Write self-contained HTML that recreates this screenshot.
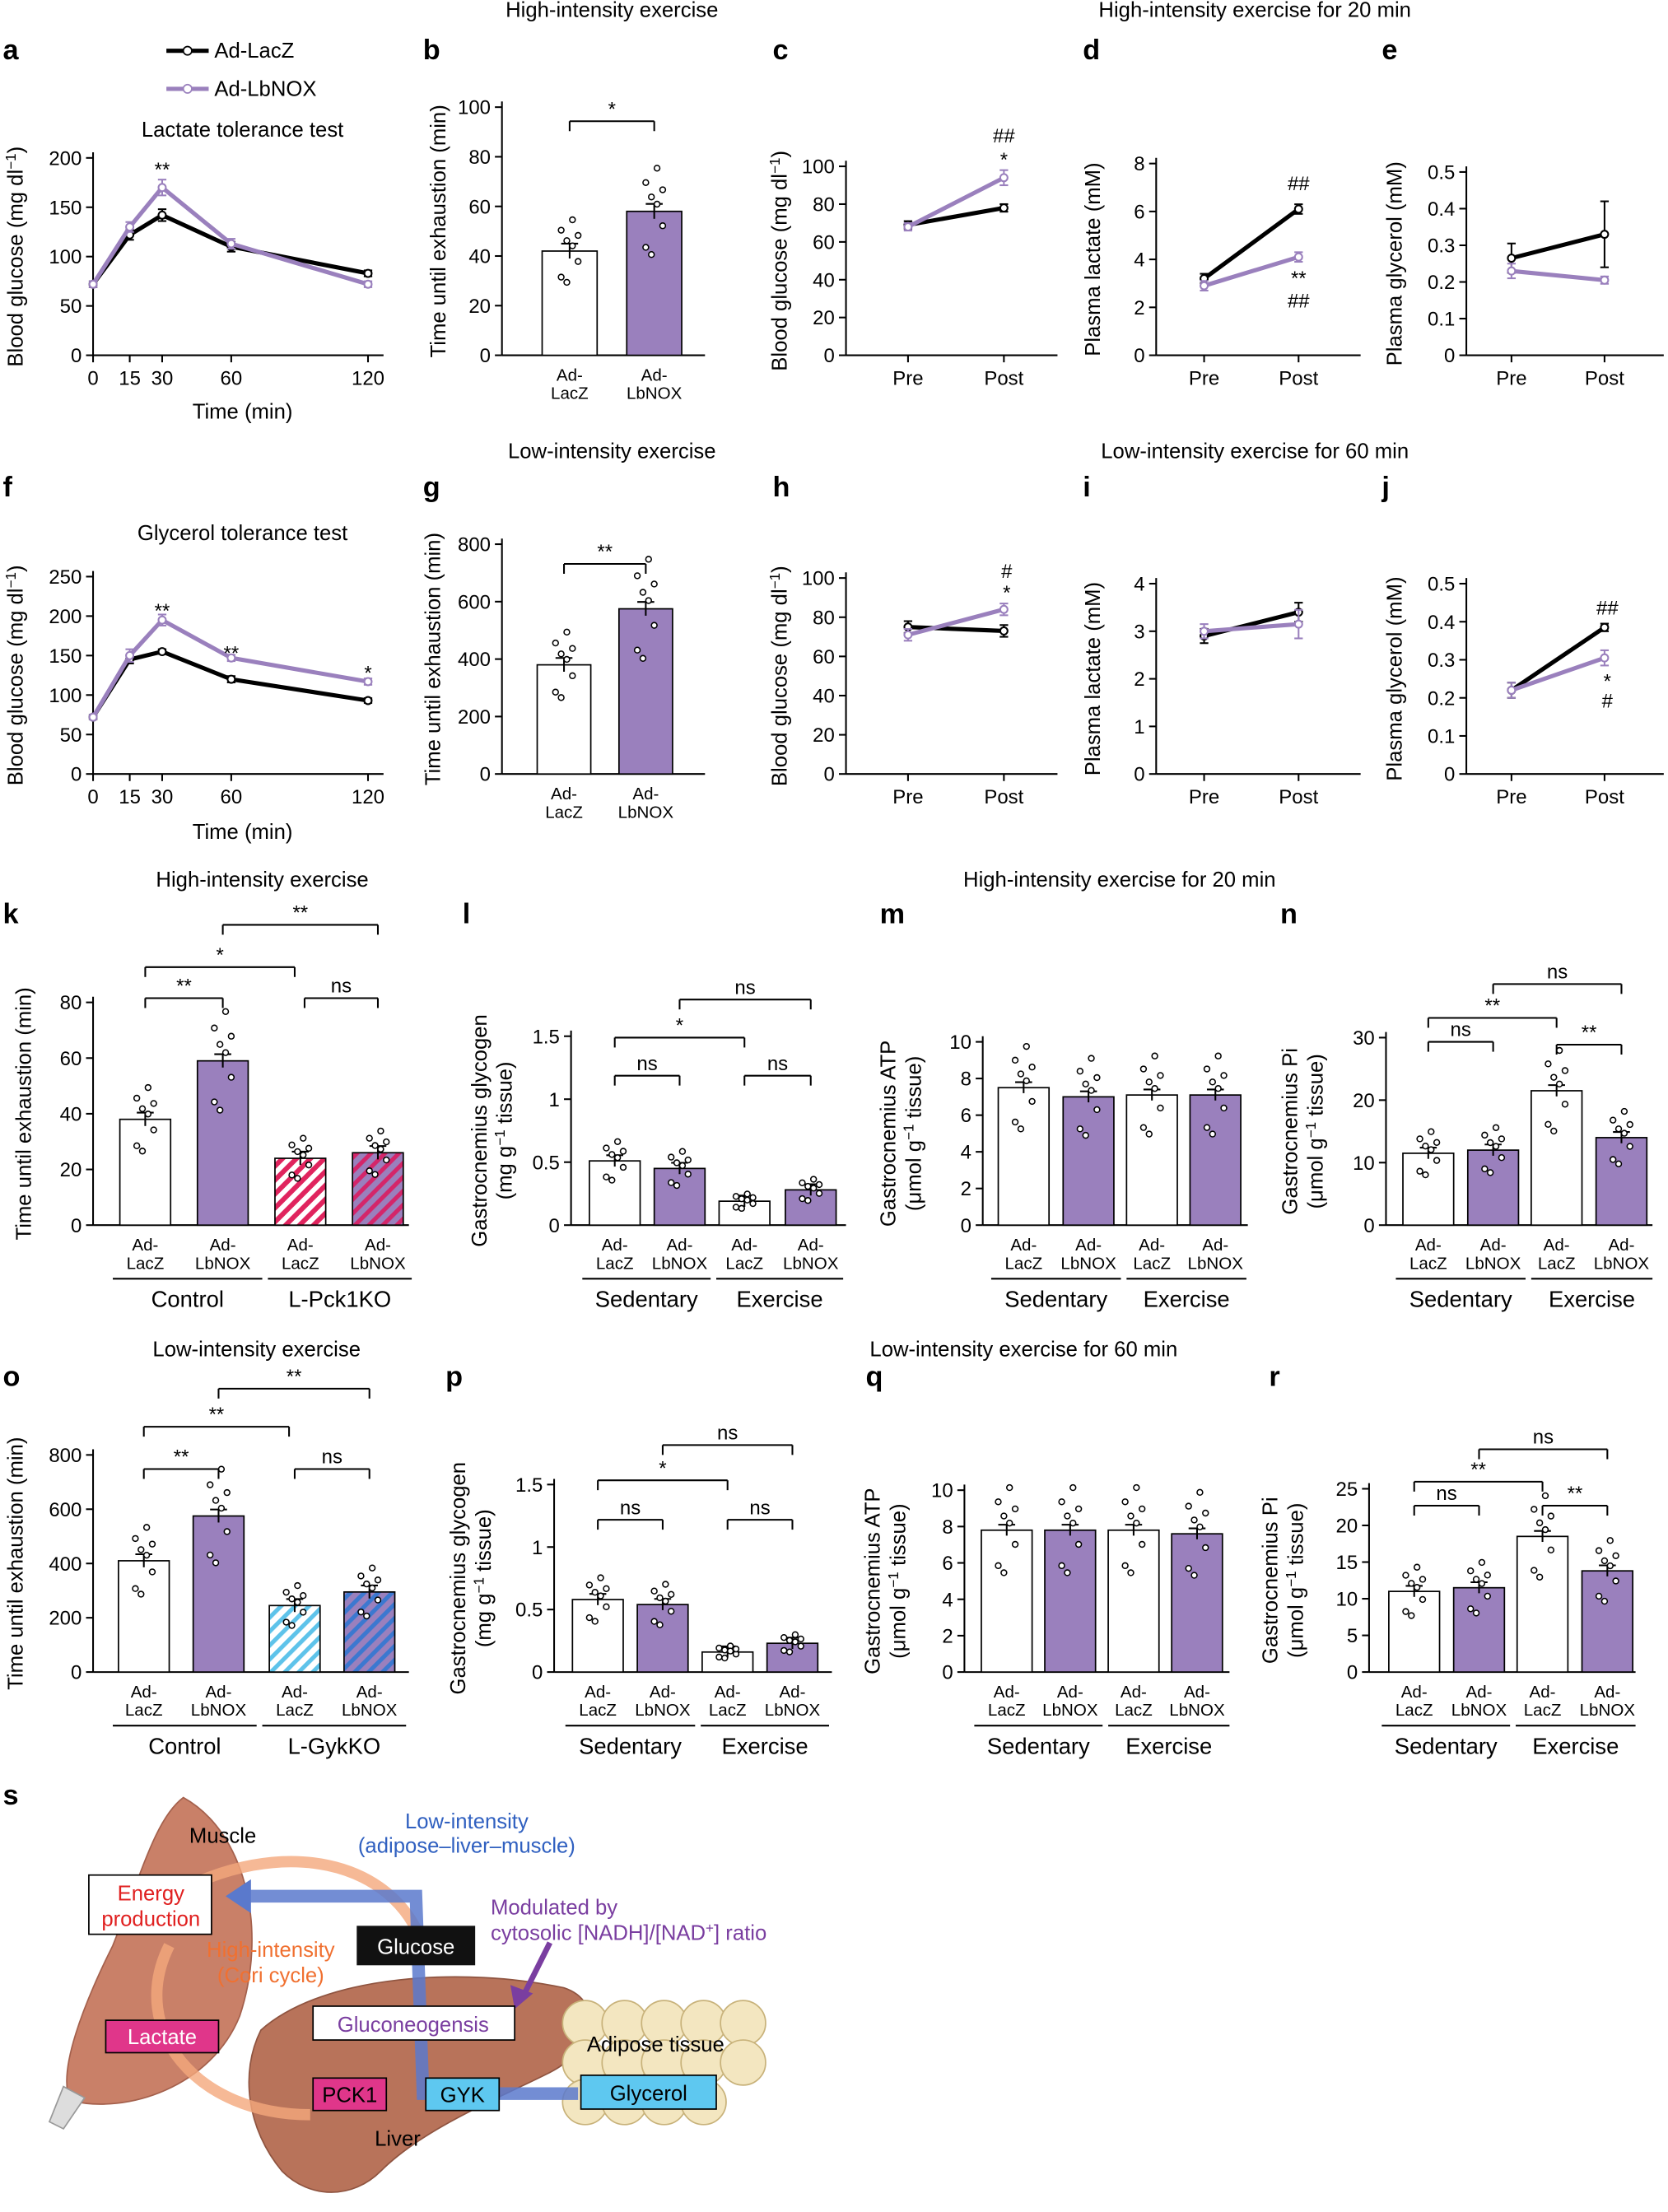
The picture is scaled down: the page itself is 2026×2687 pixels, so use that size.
<!DOCTYPE html>
<html><head><meta charset="utf-8"><style>
html,body{margin:0;padding:0;background:#fff;}
svg{display:block;font-family:"Liberation Sans",Arial,sans-serif;}
</style></head><body>
<svg id="s" width="2026" height="2687" viewBox="0 0 1183 1569" xmlns="http://www.w3.org/2000/svg"></svg>
<script>
const P='#9a80bd';let o='';
o+=`<defs>
<pattern id="hr" width="7" height="7" patternUnits="userSpaceOnUse" patternTransform="rotate(45)"><rect width="7" height="7" fill="#fff"/><rect width="3.5" height="7" fill="#e0245e"/></pattern>
<pattern id="hp" width="7" height="7" patternUnits="userSpaceOnUse" patternTransform="rotate(45)"><rect width="7" height="7" fill="#9a80bd"/><rect width="3" height="7" fill="#d4266a"/></pattern>
<pattern id="hb" width="7" height="7" patternUnits="userSpaceOnUse" patternTransform="rotate(45)"><rect width="7" height="7" fill="#fff"/><rect width="3" height="7" fill="#5ec3ea"/></pattern>
<pattern id="hd" width="7" height="7" patternUnits="userSpaceOnUse" patternTransform="rotate(45)"><rect width="7" height="7" fill="#9a80bd"/><rect width="3" height="7" fill="#3c78d0"/></pattern>
</defs>`;
function T(x,y,s,sz=14,a='middle',extra=''){o+=`<text x="${x}" y="${y}" font-size="${sz}" text-anchor="${a}" ${extra}>${s}</text>`;}
function L(x1,y1,x2,y2,c='#000',w=1.2){o+=`<line x1="${x1}" y1="${y1}" x2="${x2}" y2="${y2}" stroke="${c}" stroke-width="${w}"/>`;}
function yAx(x,y0,y1,max,ticks,lab,lx){L(x,y0-4,x,y1);const f=v=>y1-v/max*(y1-y0);
 ticks.forEach(v=>{const y=f(v);L(x-5,y,x,y);T(x-8,y+5,String(v),14,'end');});
 if(lab){o+=`<text transform="translate(${lx},${(y0+y1)/2}) rotate(-90)" font-size="15" text-anchor="middle">${lab}</text>`;}return f;}
function letter(x,y,s){T(x,y,s,20,'start','font-weight="bold"');}
function sig(x,y,s){T(x,y,s,14);}
function lineChart(xa,xe,y0,y1,max,ticks,lab,lx,xs,labs,series){const f=yAx(xa,y0,y1,max,ticks,lab,lx);L(xa,y1,xe,y1);
 xs.forEach((x,i)=>{L(x,y1,x,y1+5);T(x,y1+21,labs[i],14);});
 series.forEach(([c,vals,err])=>{o+=`<polyline fill="none" stroke="${c}" stroke-width="3" points="${vals.map((v,i)=>xs[i]+','+f(v)).join(' ')}"/>`;
  vals.forEach((v,i)=>{const e=(err&&err[i])||0;if(e){L(xs[i],f(v-e),xs[i],f(v+e),c,1.2);L(xs[i]-3,f(v-e),xs[i]+3,f(v-e),c);L(xs[i]-3,f(v+e),xs[i]+3,f(v+e),c);}
  o+=`<circle cx="${xs[i]}" cy="${f(v)}" r="2.6" fill="#fff" stroke="${c}" stroke-width="1.2"/>`;});});return f;}
function bars(xa,xe,y0,y1,max,ticks,lab,lx,cs,vals,fills,w,groups){const f=yAx(xa,y0,y1,max,ticks,lab,lx);L(xa,y1,xe,y1);
 cs.forEach((c,i)=>{const v=vals[i];o+=`<rect x="${c-w/2}" y="${f(v)}" width="${w}" height="${y1-f(v)}" fill="${fills[i]}" stroke="#000" stroke-width="1"/>`;
  const e=max*0.03;L(c,f(v-e),c,f(v+e));L(c-6,f(v+e),c+6,f(v+e));
  const offs=[-0.25,0.1,0.3,-0.1,0.2,-0.3,0.05,0.15];
  offs.forEach((d,k)=>{const dx=((k%4)-1.5)*4;o+=`<circle cx="${c+dx}" cy="${f(Math.max(0,v*(1+d)))}" r="2" fill="#fff" stroke="#000" stroke-width="0.9"/>`;});
  T(c,y1+18,'Ad-',12);T(c,y1+31,i%2?'LbNOX':'LacZ',12);});
 groups.forEach(([a,b,s])=>{L(a,y1+38,b,y1+38);T((a+b)/2,y1+58,s,16);});return f;}
function brk(x1,x2,y,s){L(x1,y,x2,y);L(x1,y,x1,y+7);L(x2,y,x2,y+7);sig((x1+x2)/2,y-4,s);}
// Row 1
letter(2,42,'a');letter(300,42,'b');letter(548,42,'c');letter(768,42,'d');letter(980,42,'e');
T(434,12,'High-intensity exercise',15);T(890,12,'High-intensity exercise for 20 min',15);
L(118,36,148,36,'#000',3);o+=`<circle cx="133" cy="36" r="3" fill="#fff" stroke="#000"/>`;T(152,41,'Ad-LacZ',15,'start');
L(118,63,148,63,P,3);o+=`<circle cx="133" cy="63" r="3" fill="#fff" stroke="${P}"/>`;T(152,68,'Ad-LbNOX',15,'start');
T(172,97,'Lactate tolerance test',15);
const tx=[66,92,115,164,261];
const BG='Blood glucose (mg dl<tspan font-size="10" dy="-5">−1</tspan><tspan dy="5">)</tspan>';
lineChart(66,272,112,252,200,[0,50,100,150,200],BG,16,tx,['0','15','30','60','120'],
 [['#000',[72,122,142,110,83],[3,5,6,5,3]],[P,[72,130,170,113,72],[3,5,8,5,3]]]);
T(172,297,'Time (min)',15);sig(115,125,'**');
bars(356,500,76,252,100,[0,20,40,60,80,100],'Time until exhaustion (min)',316,[404,464],[42,58],['#fff',P],39,[]);
brk(404,464,86,'*');
lineChart(600,750,118,252,100,[0,20,40,60,80,100],BG,558,[644,712],['Pre','Post'],[['#000',[69,78],[2,2]],[P,[68,94],[2,4]]]);
sig(712,101,'##');sig(712,118,'*');
lineChart(820,965,116,252,8,[0,2,4,6,8],'Plasma lactate (mM)',780,[854,921],['Pre','Post'],[['#000',[3.2,6.1],[0.2,0.2]],[P,[2.9,4.1],[0.2,0.2]]]);
sig(921,135,'##');sig(921,202,'**');sig(921,218,'##');
lineChart(1040,1180,122,252,0.5,[0,0.1,0.2,0.3,0.4,0.5],'Plasma glycerol (mM)',994,[1072,1138],['Pre','Post'],[['#000',[0.265,0.33],[0.04,0.09]],[P,[0.23,0.205],[0.02,0.01]]]);
// Row 2
letter(2,352,'f');letter(300,352,'g');letter(548,352,'h');letter(768,352,'i');letter(980,352,'j');
T(434,325,'Low-intensity exercise',15);T(890,325,'Low-intensity exercise for 60 min',15);
T(172,383,'Glycerol tolerance test',15);
lineChart(66,272,409,549,250,[0,50,100,150,200,250],BG,16,tx,['0','15','30','60','120'],
 [['#000',[72,145,155,120,93],[3,5,3,4,3]],[P,[72,150,195,147,117],[3,8,7,4,4]]]);
T(172,595,'Time (min)',15);sig(115,438,'**');sig(164,468,'**');sig(261,482,'*');
bars(356,500,386,549,800,[0,200,400,600,800],'Time until exhaustion (min)',312,[400,458],[380,575],['#fff',P],38,[]);
brk(400,458,400,'**');
lineChart(600,750,410,549,100,[0,20,40,60,80,100],BG,558,[644,712],['Pre','Post'],[['#000',[75,73],[3,3]],[P,[71,84],[3,3]]]);
sig(714,410,'#');sig(714,425,'*');
lineChart(820,965,414,549,4,[0,1,2,3,4],'Plasma lactate (mM)',780,[854,921],['Pre','Post'],[['#000',[2.9,3.4],[0.15,0.2]],[P,[3.0,3.15],[0.15,0.3]]]);
lineChart(1040,1180,414,549,0.5,[0,0.1,0.2,0.3,0.4,0.5],'Plasma glycerol (mM)',994,[1072,1138],['Pre','Post'],[['#000',[0.22,0.385],[0.02,0.01]],[P,[0.22,0.305],[0.02,0.02]]]);
sig(1140,436,'##');sig(1140,488,'*');sig(1140,502,'#');
// Row 3
letter(2,655,'k');letter(328,655,'l');letter(624,655,'m');letter(908,655,'n');
T(186,629,'High-intensity exercise',15);T(794,629,'High-intensity exercise for 20 min',15);
bars(66,290,711,869,80,[0,20,40,60,80],'Time until exhaustion (min)',22,[103,158,213,268],[38,59,24,26],['#fff',P,'url(#hr)','url(#hp)'],36,[[80,186,'Control'],[190,292,'L-Pck1KO']]);
brk(103,158,708,'**');brk(103,209,686,'*');brk(158,268,656,'**');brk(216,268,708,'ns');
bars(405,600,735,869,1.5,[0,0.5,1.0,1.5],'Gastrocnemius glycogen<tspan x="0" dy="18">(mg g<tspan font-size="10" dy="-5">−1</tspan><tspan dy="5"> tissue)</tspan></tspan>',345,[436,482,528,575],[0.51,0.45,0.19,0.28],['#fff',P,'#fff',P],36,[[413,504,'Sedentary'],[508,598,'Exercise']]);
brk(436,482,763,'ns');brk(436,528,736,'*');brk(482,575,709,'ns');brk(528,575,763,'ns');
bars(697,885,739,869,10,[0,2,4,6,8,10],'Gastrocnemius ATP<tspan x="0" dy="18">(μmol g<tspan font-size="10" dy="-5">−1</tspan><tspan dy="5"> tissue)</tspan></tspan>',635,[726,772,817,862],[7.5,7.0,7.1,7.1],['#fff',P,'#fff',P],36,[[703,795,'Sedentary'],[799,884,'Exercise']]);
bars(983,1172,736,869,30,[0,10,20,30],'Gastrocnemius Pi<tspan x="0" dy="18">(μmol g<tspan font-size="10" dy="-5">−1</tspan><tspan dy="5"> tissue)</tspan></tspan>',920,[1013,1059,1104,1150],[11.5,12,21.5,14],['#fff',P,'#fff',P],36,[[990,1082,'Sedentary'],[1086,1172,'Exercise']]);
brk(1013,1059,739,'ns');brk(1013,1104,722,'**');brk(1104,1150,741,'**');brk(1059,1150,698,'ns');
// Row 4
letter(2,983,'o');letter(316,983,'p');letter(614,983,'q');letter(900,983,'r');
T(182,962,'Low-intensity exercise',15);T(726,962,'Low-intensity exercise for 60 min',15);
bars(66,290,1032,1186,800,[0,200,400,600,800],'Time until exhaustion (min)',16,[102,155,209,262],[410,575,245,295],['#fff',P,'url(#hb)','url(#hd)'],36,[[80,182,'Control'],[186,288,'L-GykKO']]);
brk(102,155,1042,'**');brk(102,205,1012,'**');brk(155,262,985,'**');brk(209,262,1042,'ns');
bars(393,590,1053,1186,1.5,[0,0.5,1.0,1.5],'Gastrocnemius glycogen<tspan x="0" dy="18">(mg g<tspan font-size="10" dy="-5">−1</tspan><tspan dy="5"> tissue)</tspan></tspan>',330,[424,470,516,562],[0.58,0.54,0.16,0.23],['#fff',P,'#fff',P],36,[[401,493,'Sedentary'],[497,588,'Exercise']]);
brk(424,470,1078,'ns');brk(424,516,1050,'*');brk(470,562,1025,'ns');brk(516,562,1078,'ns');
bars(684,872,1057,1186,10,[0,2,4,6,8,10],'Gastrocnemius ATP<tspan x="0" dy="18">(μmol g<tspan font-size="10" dy="-5">−1</tspan><tspan dy="5"> tissue)</tspan></tspan>',624,[714,759,804,849],[7.8,7.8,7.8,7.6],['#fff',P,'#fff',P],36,[[691,782,'Sedentary'],[786,872,'Exercise']]);
bars(971,1160,1056,1186,25,[0,5,10,15,20,25],'Gastrocnemius Pi<tspan x="0" dy="18">(μmol g<tspan font-size="10" dy="-5">−1</tspan><tspan dy="5"> tissue)</tspan></tspan>',906,[1003,1049,1094,1140],[11,11.5,18.5,13.8],['#fff',P,'#fff',P],36,[[980,1071,'Sedentary'],[1075,1160,'Exercise']]);
brk(1003,1049,1068,'ns');brk(1003,1094,1051,'**');brk(1094,1140,1068,'**');brk(1049,1140,1028,'ns');
// Panel s
letter(2,1280,'s');
o+=`<path d="M130,1275 C175,1300 190,1370 170,1430 C150,1480 90,1500 50,1490 C40,1470 60,1420 80,1380 C100,1330 110,1290 130,1275Z" fill="#c98068" stroke="#a4604c"/>`;
o+=`<path d="M45,1480 L35,1505 L45,1510 L60,1488Z" fill="#ddd" stroke="#999"/>`;
o+=`<path d="M185,1440 C230,1400 330,1395 400,1410 C430,1420 420,1455 390,1470 C350,1490 300,1510 270,1540 C250,1560 220,1560 200,1540 C175,1510 170,1470 185,1440Z" fill="#b8735a" stroke="#8f5440"/>`;
for(let i=0;i<14;i++){const cx=415+(i%5)*28,cy=1435+Math.floor(i/5)*28;o+=`<circle cx="${cx}" cy="${cy}" r="16" fill="#f3e6c0" stroke="#c8b27a"/>`;}
o+=`<path d="M120,1345 C200,1300 280,1320 300,1380" fill="none" stroke="#f4a87c" stroke-width="8" opacity="0.8"/>`;
o+=`<path d="M120,1380 C90,1440 140,1500 220,1500" fill="none" stroke="#f4a87c" stroke-width="8" opacity="0.8"/>`;
o+=`<path d="M410,1485 L300,1485 L295,1345 L170,1345" fill="none" stroke="#5a79cc" stroke-width="9" opacity="0.85"/>`;
o+=`<polygon points="160,1345 178,1333 178,1357" fill="#5a79cc"/>`;
o+=`<line x1="390" y1="1378" x2="370" y2="1418" stroke="#7a3ea0" stroke-width="4"/><polygon points="365,1425 362,1408 378,1414" fill="#7a3ea0"/>`;
T(158,1307,'Muscle',15);
o+=`<rect x="63" y="1330" width="87" height="42" fill="#fff" stroke="#000"/>`;T(107,1348,'Energy',15,'middle','fill="#e02020"');T(107,1366,'production',15,'middle','fill="#e02020"');
T(331,1297,'Low-intensity',15,'middle','fill="#3060c0"');T(331,1314,'(adipose–liver–muscle)',15,'middle','fill="#3060c0"');
T(348,1358,'Modulated by',15,'start','fill="#7a3ea0"');T(348,1376,'cytosolic [NADH]/[NAD<tspan font-size="10" dy="-5">+</tspan><tspan dy="5">] ratio</tspan>',15,'start','fill="#7a3ea0"');
o+=`<rect x="253" y="1366" width="84" height="28" fill="#111"/>`;T(295,1386,'Glucose',15,'middle','fill="#fff"');
T(192,1388,'High-intensity',15,'middle','fill="#f07030"');T(192,1406,'(Cori cycle)',15,'middle','fill="#f07030"');
o+=`<rect x="222" y="1423" width="143" height="24" fill="#fff" stroke="#000"/>`;T(293,1441,'Gluconeogensis',15,'middle','fill="#7a3ea0"');
o+=`<rect x="75" y="1433" width="80" height="23" fill="#e0368a" stroke="#000"/>`;T(115,1450,'Lactate',15,'middle','fill="#fff"');
T(465,1455,'Adipose tissue',15);
o+=`<rect x="222" y="1474" width="52" height="23" fill="#e0368a" stroke="#000"/>`;T(248,1491,'PCK1',15);
o+=`<rect x="302" y="1474" width="52" height="23" fill="#5ec8f0" stroke="#000"/>`;T(328,1491,'GYK',15);
o+=`<rect x="412" y="1472" width="96" height="24" fill="#5ec8f0" stroke="#000"/>`;T(460,1490,'Glycerol',15);
T(282,1522,'Liver',15);
document.getElementById('s').innerHTML=o;
</script>
</body></html>
